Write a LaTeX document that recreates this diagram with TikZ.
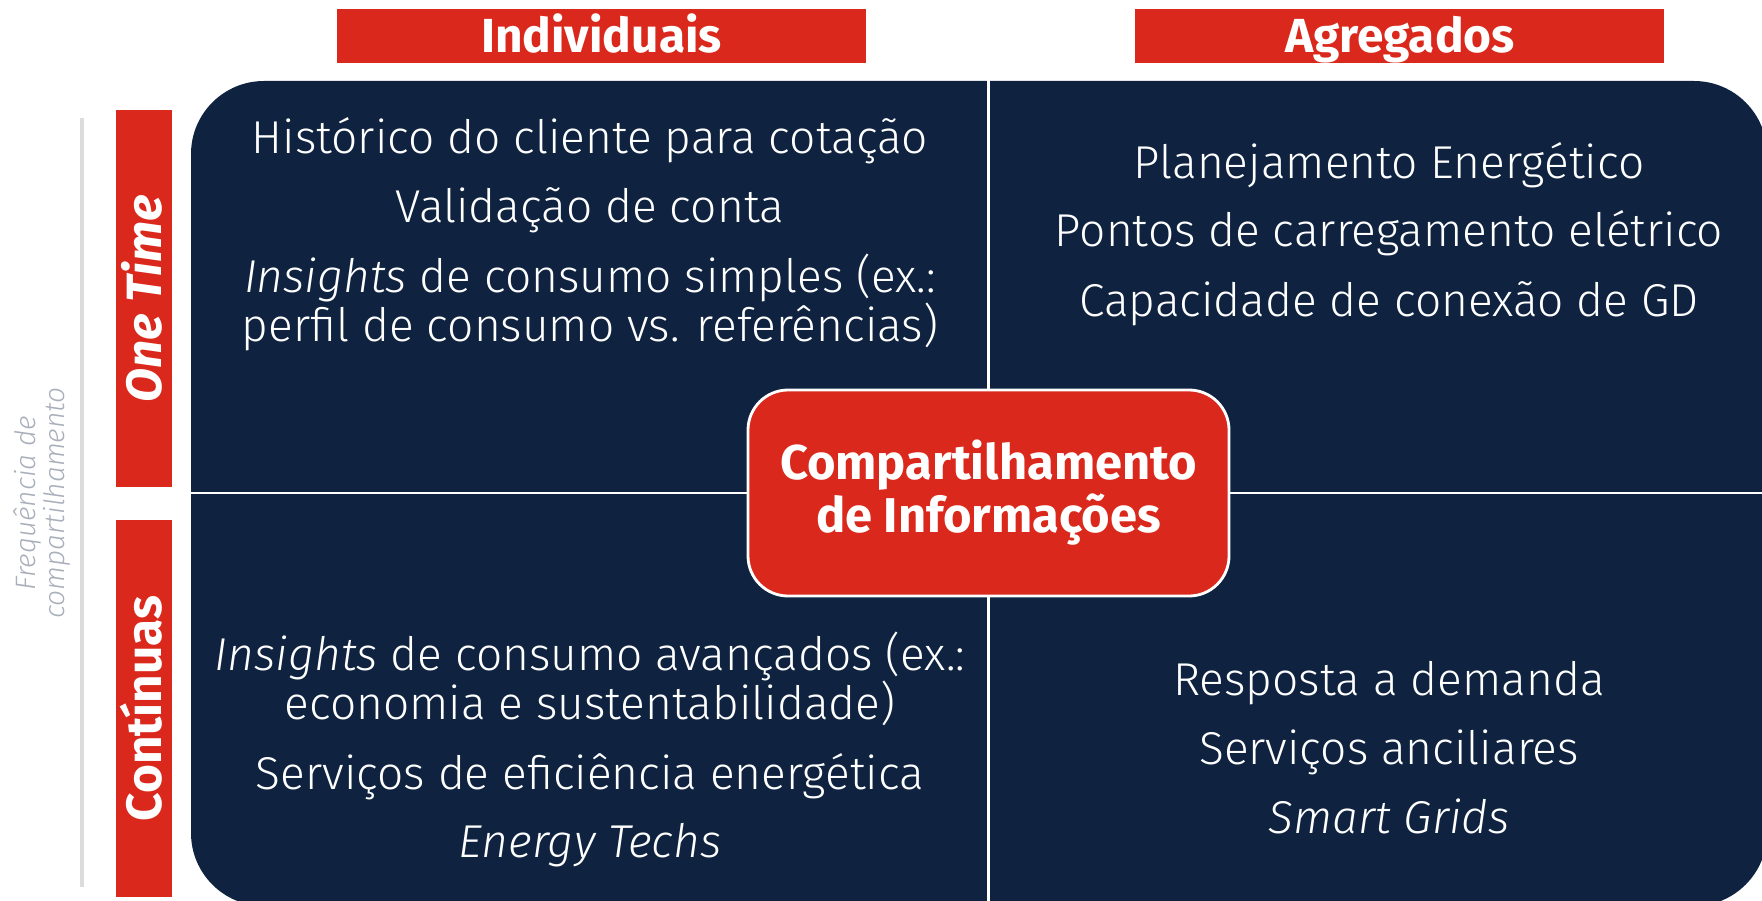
\documentclass[tikz,border=0pt]{standalone}
\usepackage{fontspec}
\setmainfont{Fira Sans}[UprightFont=* Light, ItalicFont=* Light Italic, BoldFont=* Bold, BoldItalicFont=* Bold Italic]
\usetikzlibrary{positioning}
\definecolor{navy}{RGB}{15,35,64}
\definecolor{brandred}{RGB}{218,41,28}
\definecolor{axisgray}{RGB}{220,220,222}
\definecolor{notegray}{RGB}{168,175,186}

\begin{document}
\begin{tikzpicture}[
		% Define the looks shared by the boxes and the quadrant texts
		header/.style={fill=brandred, text=white, font=\bfseries\fontsize{13.6}{16}\selectfont, minimum width=5.29cm, minimum height=0.54cm, text height=0.34cm, text depth=0pt, inner sep=0pt},
		sidebar/.style={fill=brandred, text=white, font=\bfseries\fontsize{14.1}{17}\selectfont, rotate=90, minimum width=3.77cm, minimum height=0.56cm, text height=0.35cm, text depth=0pt, inner sep=0pt},
		panel/.style={fill=navy, rounded corners=0.73cm, minimum width=15.76cm, minimum height=8.25cm, inner sep=0pt},
		hub/.style={fill=brandred, draw=white, line width=0.8pt, rounded corners=0.4cm, minimum width=4.81cm, minimum height=2.06cm, text=white, align=center, font=\bfseries\fontsize{13.9}{13.7}\selectfont},
		item/.style={text=white, anchor=base, inner sep=0pt, font=\fontsize{13.1}{15}\selectfont},
		divider/.style={draw=white, line width=0.8pt}
		]
		\useasboundingbox (0,0) rectangle (17.62,9);
		\pgfmathsetmacro{\LeftColumn}{5.90}
		\pgfmathsetmacro{\RightColumn}{13.89}
		\node[header] (indiv) at (6.015,8.64) {Individuais};
		\node[header, right=2.68cm of indiv] (agreg) {Agregados};
		\node[sidebar] (onetime) at (1.44,6.015) {\itshape One Time};
		\node[sidebar] (continuas) at (1.44,1.915) {Contínuas};
		\coordinate (AxisTop) at (0.82,7.82);
		\coordinate (AxisBottom) at (0.82,0.13);
		\draw[axisgray, line width=1pt] (AxisTop) -- (AxisBottom);
		\node[rotate=90, align=center, text=notegray, font=\itshape\fontsize{8}{8.3}\selectfont] (freq) at (0.42,3.97) {Frequência de\\compartilhamento};
		\node[panel] (panel) at (9.79,4.065) {};
		\node[hub] (hub) at (9.885,4.07) {Compartilhamento\\de Informações};
		\draw[divider] (hub.north) -- (hub.north |- panel.north);
		\draw[divider] (hub.south) -- (hub.south |- panel.south);
		\draw[divider] (hub.west) -- (hub.west -| panel.west);
		\draw[divider] (hub.east) -- (hub.east -| panel.east);
		\node[item] (historico) at (\LeftColumn,7.46) {Histórico do cliente para cotação};
		\node[item] (validacao) at (\LeftColumn,6.77) {Validação de conta};
		\node[item] (simplesA) at (\LeftColumn,6.08) {\textit{Insights} de consumo simples (ex.:};
		\node[item] (simplesB) at (\LeftColumn,5.59) {perfil de consumo vs. referências)};
		\node[item] (planejamento) at (\RightColumn,7.21) {Planejamento Energético};
		\node[item] (pontos) at (\RightColumn,6.53) {Pontos de carregamento elétrico};
		\node[item] (capacidade) at (\RightColumn,5.84) {Capacidade de conexão de GD};
		\node[item] (avancadosA) at (\LeftColumn,2.30) {\textit{Insights} de consumo avançados (ex.:};
		\node[item] (avancadosB) at (\LeftColumn,1.81) {economia e sustentabilidade)};
		\node[item] (eficiencia) at (\LeftColumn,1.11) {Serviços de eficiência energética};
		\node[item] (techs) at (\LeftColumn,0.43) {\textit{Energy Techs}};
		\node[item] (resposta) at (\RightColumn,2.05) {Resposta a demanda};
		\node[item] (anciliares) at (\RightColumn,1.36) {Serviços anciliares};
		\node[item] (grids) at (\RightColumn,0.67) {\textit{Smart Grids}};
	\end{tikzpicture}
\end{document}
